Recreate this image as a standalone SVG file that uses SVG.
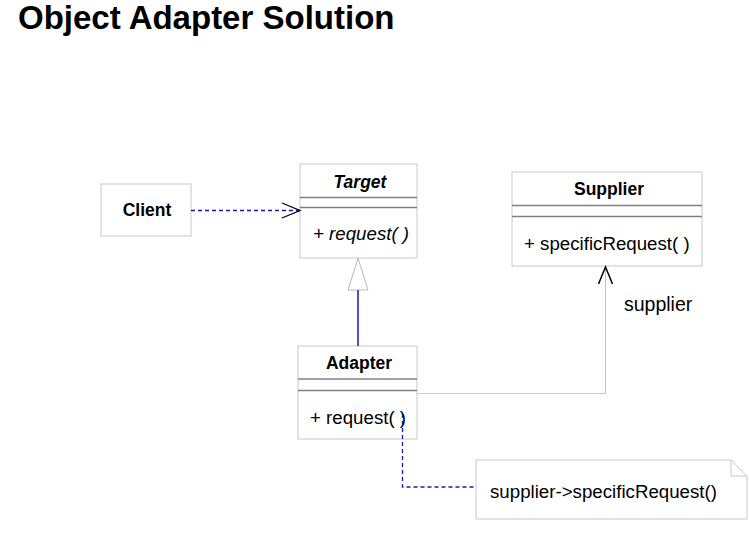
<svg xmlns="http://www.w3.org/2000/svg" width="749" height="534" viewBox="0 0 749 534">
<style>
text{font-family:"Liberation Sans",Arial,sans-serif;fill:#000}
.box{fill:#fff;stroke:#c8c8c8;stroke-width:1}
.sep{stroke:#808080;stroke-width:1.3}
.name{font-size:17.5px;font-weight:bold;text-anchor:middle}
.op{font-size:18.7px}
.dash{fill:none;stroke:#1a1aaa;stroke-width:1.3;stroke-dasharray:4,3}
</style>
<rect width="749" height="534" fill="#fff"/>
<text x="18" y="29" style="font-size:33px;font-weight:bold">Object Adapter Solution</text>
<g id="client">
<rect class="box" x="101" y="184" width="90" height="52"/>
<text class="name" x="147" y="216">Client</text>
</g>
<g id="target">
<rect class="box" x="300" y="164" width="117" height="94"/>
<line class="sep" x1="300" y1="197.5" x2="417" y2="197.5"/>
<line class="sep" x1="300" y1="207.5" x2="417" y2="207.5"/>
<text class="name" x="360" y="188" style="font-style:italic">Target</text>
<text class="op" x="313" y="240" style="font-style:italic">+ request( )</text>
</g>
<g id="supplier">
<rect class="box" x="512" y="172" width="190" height="94"/>
<line class="sep" x1="512" y1="205.5" x2="702" y2="205.5"/>
<line class="sep" x1="512" y1="216.5" x2="702" y2="216.5"/>
<text class="name" x="609" y="195">Supplier</text>
<text class="op" x="524" y="250">+ specificRequest( )</text>
</g>
<g id="adapter">
<rect class="box" x="298" y="346" width="119" height="93"/>
<line class="sep" x1="298" y1="379" x2="417" y2="379"/>
<line class="sep" x1="298" y1="390.5" x2="417" y2="390.5"/>
<text class="name" x="359" y="369">Adapter</text>
<text class="op" x="310" y="424">+ request( )</text>
</g>
<g id="note">
<path d="M476 460 H731 L747 476 V519 H476 Z" fill="#fff" stroke="#c8c8c8"/>
<path d="M731 460 V476 H747" fill="none" stroke="#c8c8c8"/>
<text class="op" x="490" y="498">supplier-&gt;specificRequest()</text>
</g>
<g id="connectors">
<line class="dash" x1="191" y1="210.5" x2="299" y2="210.5"/>
<polyline points="282,203 300,210.5 282,218" fill="none" stroke="#000" stroke-width="1.3"/>
<polygon points="358,258 348,290 368,290" fill="#fff" stroke="#b8b8b8"/>
<line x1="358" y1="290" x2="358" y2="346" stroke="#1a1aaa" stroke-width="1.5"/>
<polyline points="417,393.5 605.5,393.5 605.5,267" fill="none" stroke="#c8c8c8" stroke-width="1.2"/>
<polyline points="598.5,284 605.5,267 612.5,284" fill="none" stroke="#000" stroke-width="1.5"/>
<text class="op" x="624" y="311" style="font-size:19.5px">supplier</text>
<polyline class="dash" points="402.5,414 402.5,487 476,487"/>
</g>
</svg>
